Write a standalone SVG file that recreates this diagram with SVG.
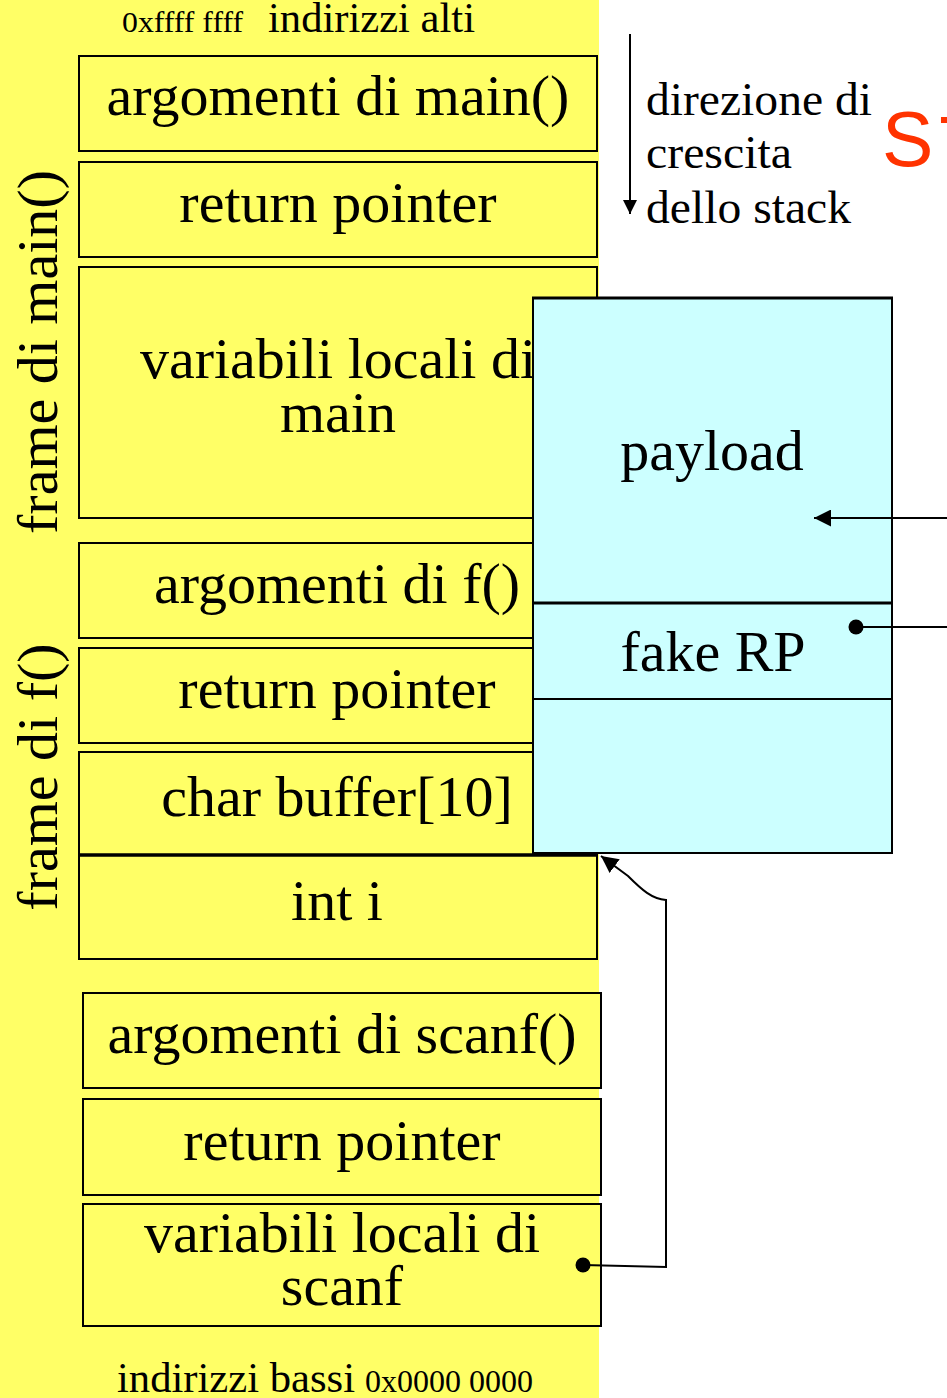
<svg xmlns="http://www.w3.org/2000/svg" width="947" height="1398" viewBox="0 0 947 1398">
<defs>
<style>
.bx{fill:#FFFF66;stroke:#000;stroke-width:2}
.t{font-family:"Liberation Serif","Times New Roman",serif;fill:#000}
.big{font-size:58px;text-anchor:middle}
.dir{font-size:47px}
.ln{fill:none;stroke:#000;stroke-width:2}
</style>
<marker id="ah" viewBox="0 0 10 10" refX="10" refY="5" markerWidth="14" markerHeight="14" markerUnits="userSpaceOnUse" orient="auto">
<path d="M0,0 L10,5 L0,10 Z" fill="#000"/>
</marker>
<marker id="ah2" viewBox="0 0 10 10" refX="10" refY="5" markerWidth="17" markerHeight="17" markerUnits="userSpaceOnUse" orient="auto">
<path d="M0,0 L10,5 L0,10 Z" fill="#000"/>
</marker>
</defs>
<rect x="0" y="0" width="947" height="1398" fill="#fff"/>
<rect id="bg" x="0" y="0" width="599" height="1398" fill="#FFFF66"/>

<g id="top-label">
<text class="t" x="122" y="32" font-size="30" textLength="121" lengthAdjust="spacingAndGlyphs">0xffff ffff</text>
<text class="t" x="268" y="32" font-size="42" textLength="207" lengthAdjust="spacingAndGlyphs">indirizzi alti</text>
</g>

<g id="frame-main-label"><text class="t big" transform="translate(57,352) rotate(-90)">frame di main()</text></g>
<g id="frame-f-label"><text class="t big" transform="translate(57,777) rotate(-90)">frame di f()</text></g>

<g id="main-args"><rect class="bx" x="79" y="56" width="518" height="95"/><text class="t big" x="338" y="115">argomenti di main()</text></g>
<g id="main-rp"><rect class="bx" x="79" y="162" width="518" height="95"/><text class="t big" x="338" y="222">return pointer</text></g>
<g id="main-locals"><rect class="bx" x="79" y="267" width="518" height="251"/><text class="t big" x="338" y="378">variabili locali di</text><text class="t big" x="338" y="432">main</text></g>
<g id="f-args"><rect class="bx" x="79" y="543" width="518" height="95"/><text class="t big" x="337" y="603">argomenti di f()</text></g>
<g id="f-rp"><rect class="bx" x="79" y="648" width="518" height="95"/><text class="t big" x="337" y="708">return pointer</text></g>
<g id="f-buffer"><rect class="bx" x="79" y="752" width="518" height="103"/><text class="t big" x="337" y="816">char buffer[10]</text></g>
<g id="f-int"><rect class="bx" x="79" y="855" width="518" height="104"/><line x1="79" y1="855" x2="597" y2="855" stroke="#000" stroke-width="3.5"/><text class="t big" x="337" y="920">int i</text></g>

<g id="scanf-args"><rect class="bx" x="83" y="993" width="518" height="95"/><text class="t big" x="342" y="1053">argomenti di scanf()</text></g>
<g id="scanf-rp"><rect class="bx" x="83" y="1099" width="518" height="96"/><text class="t big" x="342" y="1160">return pointer</text></g>
<g id="scanf-locals"><rect class="bx" x="83" y="1204" width="518" height="122"/><text class="t big" x="342" y="1252">variabili locali di</text><text class="t big" x="342" y="1305">scanf</text></g>

<g id="bottom-label">
<text class="t" x="117" y="1392" font-size="42" textLength="238" lengthAdjust="spacingAndGlyphs">indirizzi bassi</text>
<text class="t" x="365" y="1392" font-size="31" textLength="168" lengthAdjust="spacingAndGlyphs">0x0000 0000</text>
</g>

<g id="payload-block">
<rect x="533" y="298" width="359" height="555" fill="#CCFFFF" stroke="#000" stroke-width="2"/>
<line x1="532" y1="298" x2="893" y2="298" stroke="#000" stroke-width="3"/>
<line x1="533" y1="603" x2="892" y2="603" stroke="#000" stroke-width="3"/>
<line x1="533" y1="699" x2="892" y2="699" stroke="#000" stroke-width="2"/>
<text class="t big" x="712" y="470">payload</text>
<text class="t big" x="713" y="671">fake RP</text>
</g>

<g id="direction">
<text class="t dir" x="646" y="115" textLength="226" lengthAdjust="spacingAndGlyphs">direzione di</text>
<text class="t dir" x="646" y="168" textLength="146" lengthAdjust="spacingAndGlyphs">crescita</text>
<text class="t dir" x="646" y="223" textLength="205" lengthAdjust="spacingAndGlyphs">dello stack</text>
</g>

<g id="title"><text x="882" y="166" font-family="'Liberation Sans',Arial,sans-serif" font-size="77" fill="#FF3300">S<tspan dx="6" dy="5">T</tspan></text></g>

<g id="connectors">
<line class="ln" x1="630" y1="34" x2="630" y2="214" marker-end="url(#ah)"/>
<line class="ln" x1="947" y1="518" x2="814" y2="518" marker-end="url(#ah2)"/>
<line class="ln" x1="856" y1="627" x2="947" y2="627"/>
<circle cx="856" cy="627" r="7.5" fill="#000"/>
<path class="ln" d="M583,1265 L666,1267 L666,900 C652,899 642,890 628,876 L601,856" marker-end="url(#ah2)"/>
<circle cx="583" cy="1265" r="7.5" fill="#000"/>
</g>
</svg>
